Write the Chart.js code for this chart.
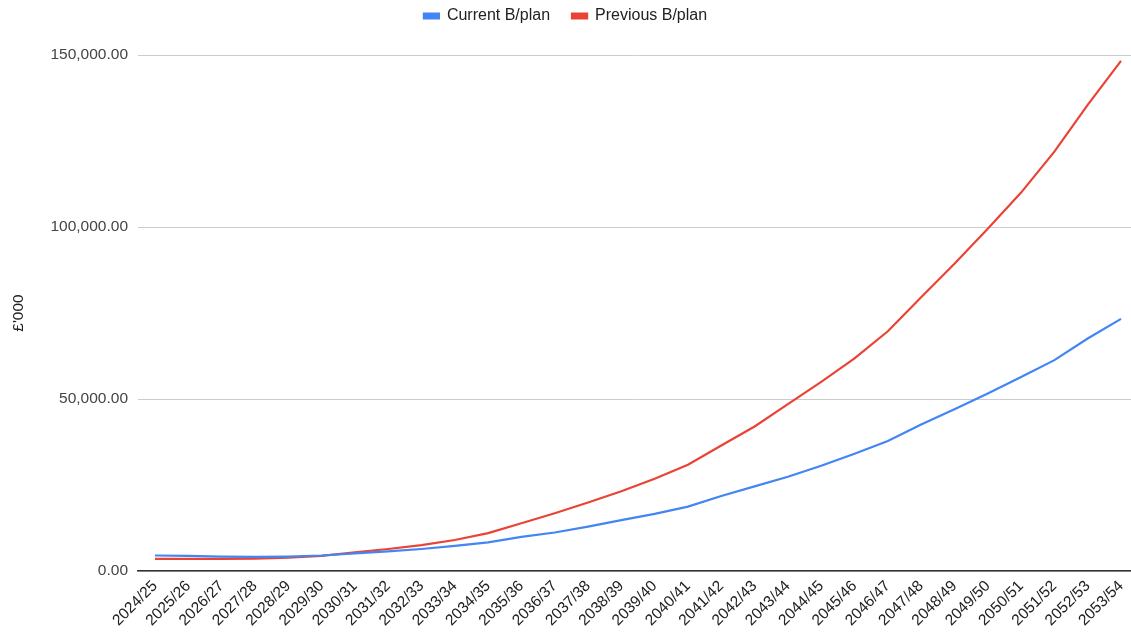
<!DOCTYPE html>
<html>
<head>
<meta charset="utf-8">
<script src="https://cdn.jsdelivr.net/npm/chart.js@4/dist/chart.umd.min.js"></script>
<style>
  html, body { margin: 0; padding: 0; background: #fff; }
  #wrap { width: 1131px; height: 632px; }
</style>
</head>
<body>
<div id="wrap"><canvas id="chart"></canvas></div>
<script>
const years = [
  '2024/25', '2025/26', '2026/27', '2027/28', '2028/29', '2029/30', '2030/31', '2031/32',
  '2032/33', '2033/34', '2034/35', '2035/36', '2036/37', '2037/38', '2038/39', '2039/40',
  '2040/41', '2041/42', '2042/43', '2043/44', '2044/45', '2045/46', '2046/47', '2047/48',
  '2048/49', '2049/50', '2050/51', '2051/52', '2052/53', '2053/54'
];
const currentPlan = [
  4500, 4400, 4200, 4100, 4200, 4500, 5100, 5700, 6400, 7300,
  8300, 9900, 11200, 12900, 14800, 16600, 18700, 21800, 24600, 27400,
  30600, 34100, 37800, 42600, 47000, 51600, 56400, 61300, 67600, 73300
];
const previousPlan = [
  3500, 3500, 3500, 3600, 3900, 4400, 5400, 6400, 7500, 9000,
  11000, 13900, 16800, 19900, 23200, 26800, 30900, 36500, 42000, 48500,
  55000, 61800, 69700, 79600, 89300, 99500, 110000, 121900, 135500, 148300
];
const yTicks = [0, 50000, 100000, 150000];

const toPoints = (arr) => arr.map((v, i) => ({ x: i, y: v }));
const fmt = new Intl.NumberFormat('en-GB', { minimumFractionDigits: 2, maximumFractionDigits: 2 });
const tickFont = { family: 'Arial, "Liberation Sans", sans-serif', size: 15.5 };
const legendFont = { family: 'Arial, "Liberation Sans", sans-serif', size: 16 };

// fixed legend height so the plot starts where the original does
const legendGap = {
  id: 'legendGap',
  beforeInit(chart) {
    const fit = chart.legend.fit;
    chart.legend.fit = function () {
      fit.bind(chart.legend)();
      this.height = 69;
    };
  }
};

new Chart(document.getElementById('chart'), {
  type: 'line',
  data: {
    datasets: [
      {
        label: 'Current B/plan',
        data: toPoints(currentPlan),
        borderColor: '#4285f4',
        backgroundColor: '#4285f4',
        borderWidth: 2.2,
        pointRadius: 0,
        tension: 0
      },
      {
        label: 'Previous B/plan',
        data: toPoints(previousPlan),
        borderColor: '#ea4335',
        backgroundColor: '#ea4335',
        borderWidth: 2.2,
        pointRadius: 0,
        tension: 0
      }
    ]
  },
  options: {
    responsive: true,
    maintainAspectRatio: false,
    animation: false,
    layout: { padding: { top: -14, right: 0, bottom: 0, left: 0 } },
    scales: {
      x: {
        type: 'linear',
        min: -0.51,
        max: 29.3,
        grid: { display: false, drawTicks: false },
        border: { display: true, color: '#333', width: 1.5 },
        afterFit: (s) => {
          s.height = 61;
          s.paddingLeft = 0;
          s.paddingRight = 0;
        },
        afterBuildTicks: (s) => { s.ticks = years.map((_, i) => ({ value: i })); },
        ticks: {
          autoSkip: false,
          minRotation: 45,
          maxRotation: 45,
          padding: 6,
          color: '#222',
          font: tickFont,
          callback: (v) => years[v]
        }
      },
      y: {
        min: 0,
        max: 150000,
        afterFit: (s) => { s.width = 138; },
        afterBuildTicks: (s) => { s.ticks = yTicks.map((v) => ({ value: v })); },
        grid: { color: '#cccccc', drawTicks: false },
        border: { display: false },
        ticks: {
          padding: 10,
          color: '#444',
          font: tickFont,
          callback: (v) => fmt.format(v)
        },
        title: {
          display: true,
          text: '£\'000',
          color: '#222',
          font: tickFont,
          padding: { top: 9, bottom: 0 }
        }
      }
    },
    plugins: {
      legend: {
        display: true,
        position: 'top',
        labels: {
          color: '#222',
          font: legendFont,
          boxWidth: 15,
          boxHeight: 5,
          padding: 22
        }
      },
      tooltip: { enabled: false }
    }
  },
  plugins: [legendGap]
});
</script>
</body>
</html>
